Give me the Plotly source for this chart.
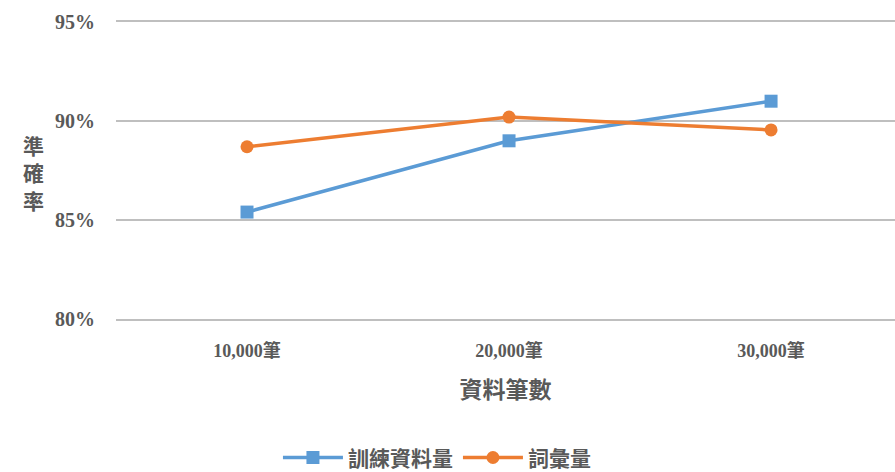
import plotly.graph_objects as go

categories = ["10,000筆", "20,000筆", "30,000筆"]
train_size = [85.4, 89.0, 91.0]
vocab_size = [88.7, 90.2, 89.55]
series_names = ["訓練資料量", "詞彙量"]
y_ticks = [80, 85, 90, 95]
y_tick_text = [f"{v}%" for v in y_ticks]

FONT = "Liberation Serif, 'Noto Sans CJK TC', serif"
GREY = "#595959"
GRID = "#BFBFBF"

fig = go.Figure()
fig.add_trace(go.Scatter(
    x=categories, y=train_size, name=series_names[0], mode="lines+markers",
    line=dict(color="#5B9BD5", width=3.5),
    marker=dict(symbol="square", size=13, color="#5B9BD5"),
))
fig.add_trace(go.Scatter(
    x=categories, y=vocab_size, name=series_names[1], mode="lines+markers",
    line=dict(color="#ED7D31", width=3.5),
    marker=dict(symbol="circle", size=13, color="#ED7D31"),
))

fig.update_layout(
    width=895, height=472,
    margin=dict(l=116, r=0, t=22, b=153, autoexpand=False),
    plot_bgcolor="white", paper_bgcolor="white",
    font=dict(family=FONT, color=GREY, size=18),
    xaxis=dict(
        type="category", range=[-0.5, 2.473],
        showgrid=False, zeroline=False,
        showline=True, mirror=True, linecolor=GRID, linewidth=1.5,
        ticks="", tickfont=dict(family=FONT, size=18, color=GREY, weight="bold"),
        ticklabelstandoff=15,
        title=dict(text="資料筆數", standoff=22,
                   font=dict(family=FONT, size=23, color=GREY, weight="bold")),
    ),
    yaxis=dict(
        range=[80, 95], tickvals=y_ticks, ticktext=y_tick_text,
        showgrid=True, gridcolor=GRID, gridwidth=1.5,
        showline=False, zeroline=False,
        tickfont=dict(family=FONT, size=20, color=GREY, weight="bold"),
        ticklabelstandoff=20,
    ),
    legend=dict(
        orientation="h", x=0.412, xanchor="center",
        yref="container", y=0.03, yanchor="middle",
        font=dict(family=FONT, size=21, color=GREY, weight="bold"),
        itemwidth=60,
    ),
    annotations=[dict(
        text="準<br>確<br>率", xref="paper", yref="paper",
        x=-0.122, y=0.485, showarrow=False, align="center",
        font=dict(family=FONT, size=21, color=GREY, weight="bold"),
    )],
)

fig.write_html("out.html")
